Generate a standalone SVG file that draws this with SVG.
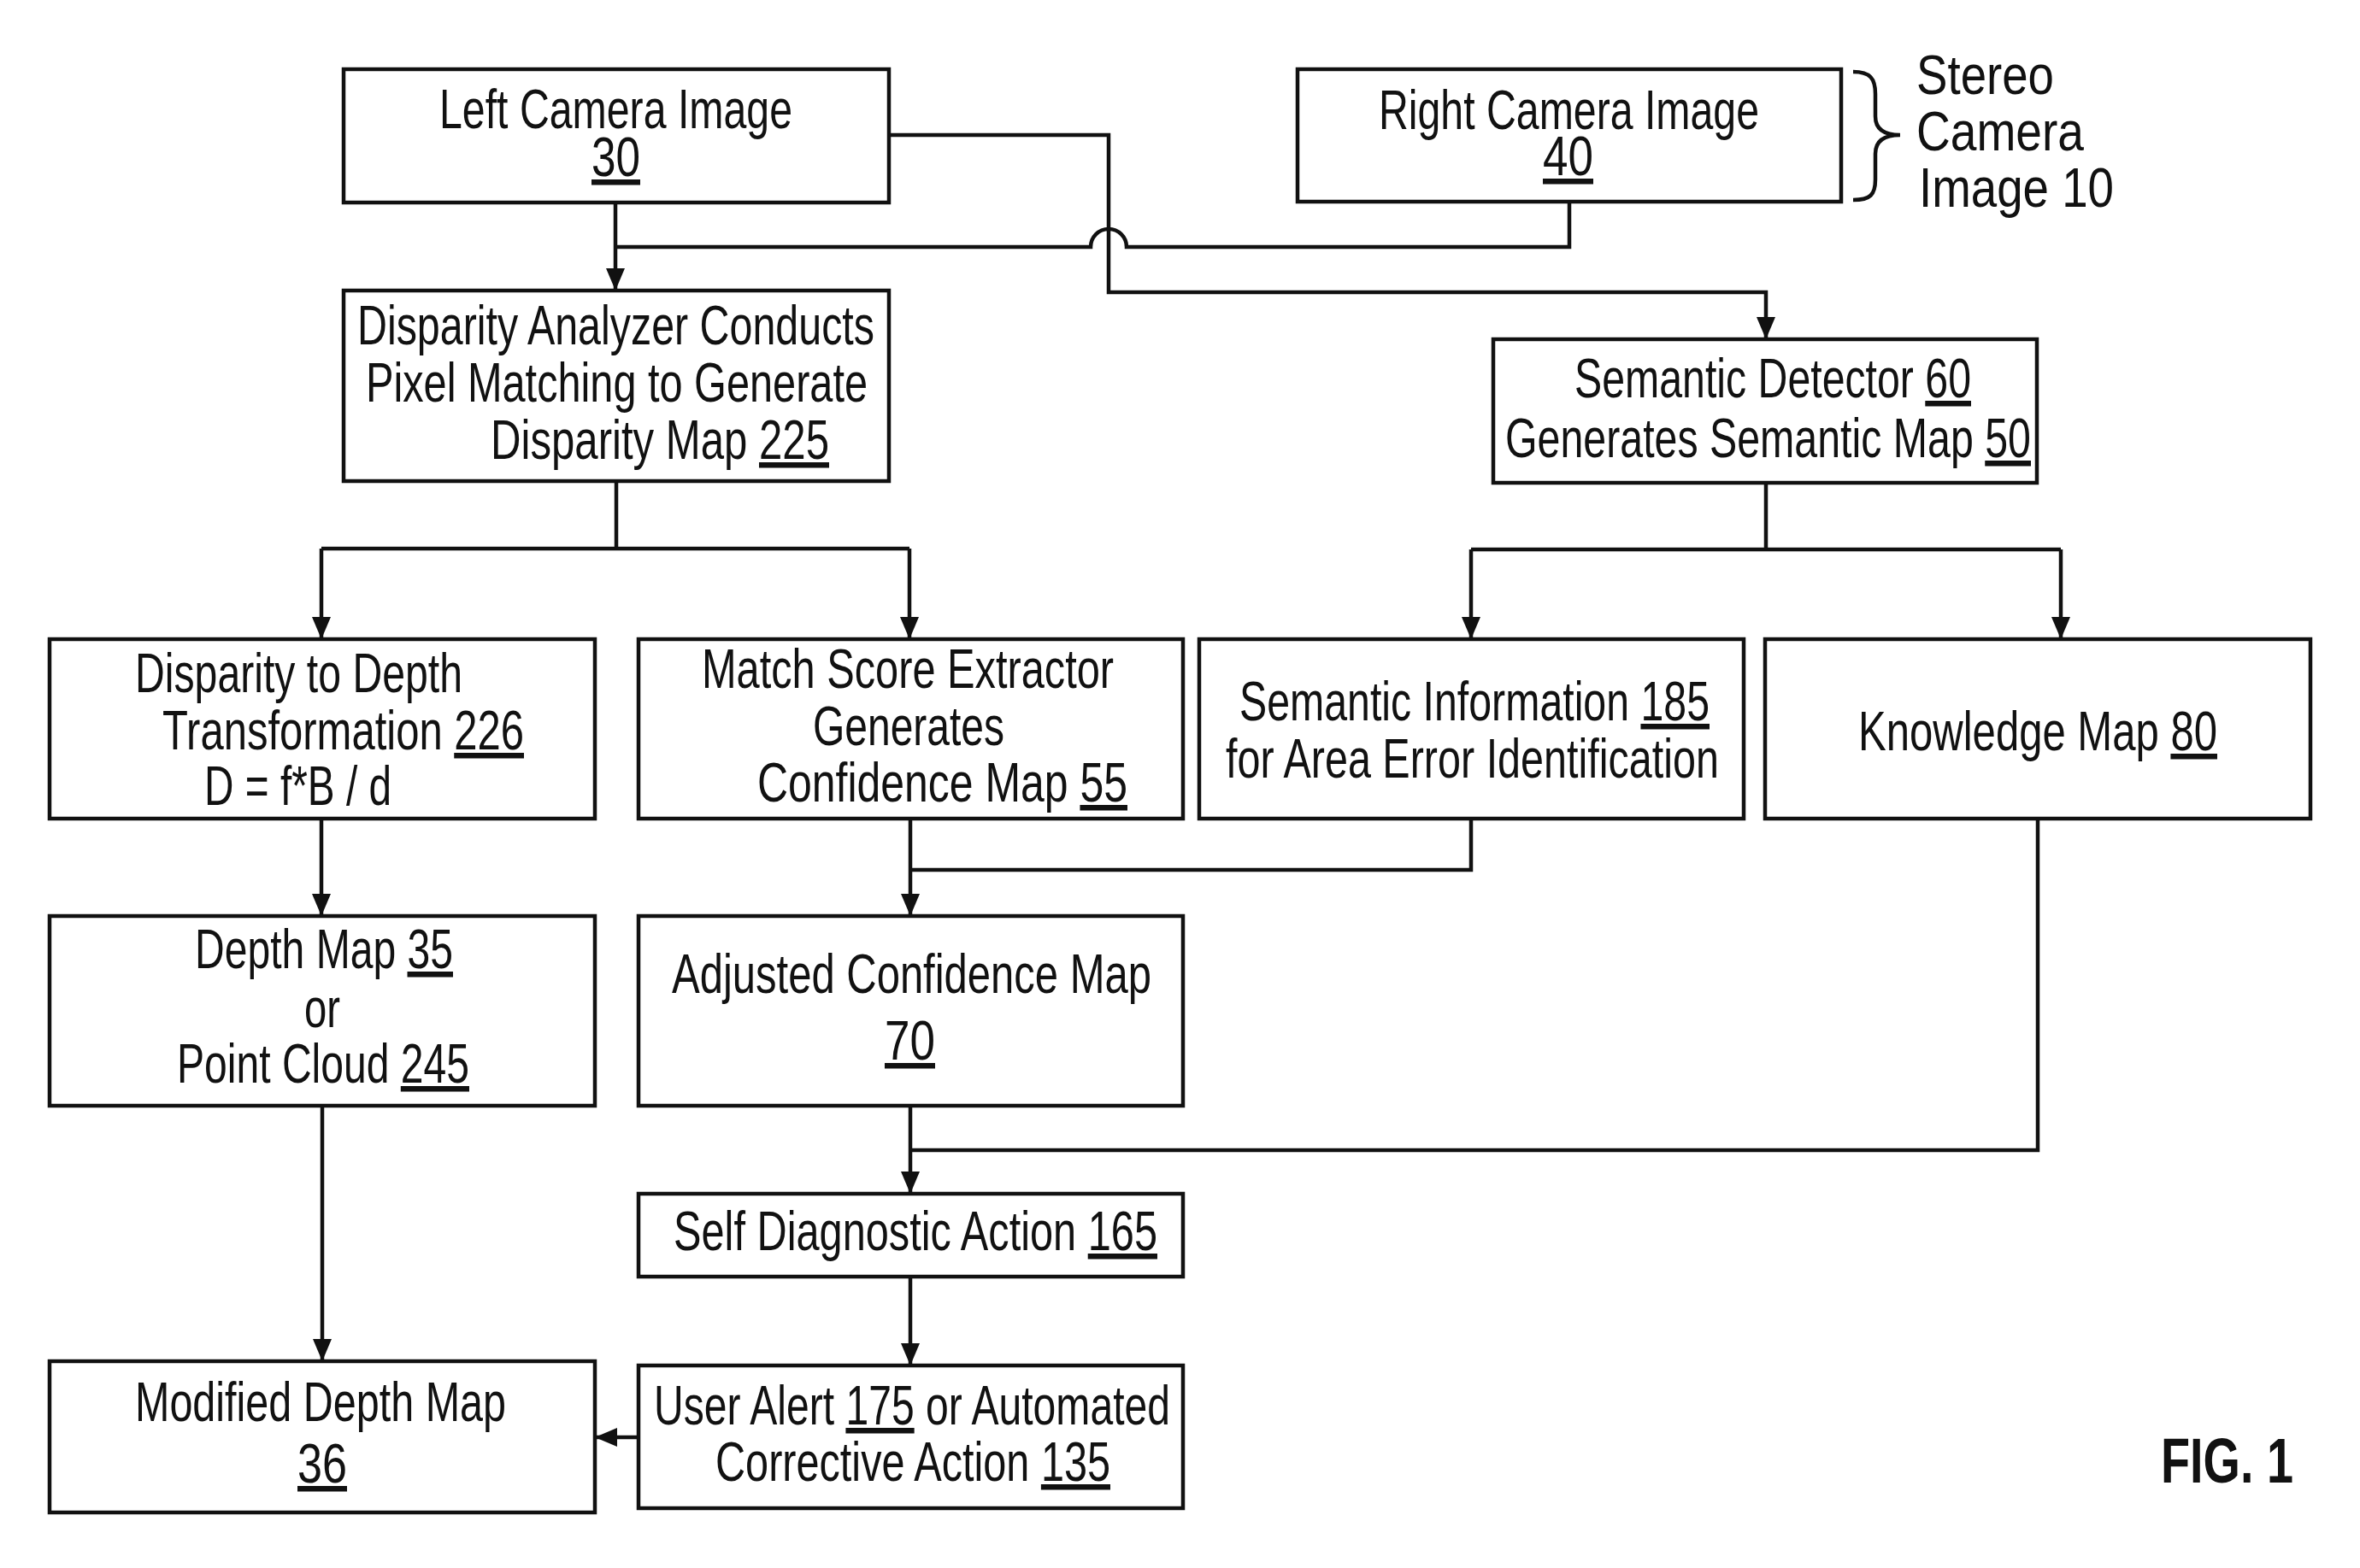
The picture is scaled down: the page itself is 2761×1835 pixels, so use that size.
<svg xmlns="http://www.w3.org/2000/svg" width="2761" height="1835" viewBox="0 0 2761 1835">
<style>
.box{fill:#fff;stroke:#111;stroke-width:4.5}
.t{font-family:"Liberation Sans",Arial,sans-serif;font-size:65px;fill:#111}
.s{font-family:"Liberation Sans",Arial,sans-serif;font-size:64px;fill:#111}
.fig{font-family:"Liberation Sans",Arial,sans-serif;font-size:74px;font-weight:bold;fill:#111}
.u{text-decoration:underline}
.c{fill:none;stroke:#111;stroke-width:4.5}
.a{fill:none;stroke:#111;stroke-width:4.5;marker-end:url(#arr)}
</style>
<defs>
<marker id="arr" viewBox="0 0 26 22" markerUnits="userSpaceOnUse" markerWidth="26" markerHeight="22" refX="26" refY="11" orient="auto">
<path d="M0,0 L26,11 L0,22 z" fill="#111"/>
</marker>
</defs>
<rect width="2761" height="1835" fill="#fff"/>

<g id="connectors">
<path class="a" d="M720,237 L720,340"/>
<path class="c" d="M1836,236 L1836,289 L1318,289 A21,21 0 0 0 1276,289 L720,289"/>
<path class="a" d="M1040,158 L1297,158 L1297,342 L2066,342 L2066,397"/>
<path class="c" d="M721,563 L721,642 M376,642 L1064,642"/>
<path class="a" d="M376,642 L376,748"/>
<path class="a" d="M1064,642 L1064,748"/>
<path class="c" d="M2066,565 L2066,643 M1721,643 L2411,643"/>
<path class="a" d="M1721,643 L1721,748"/>
<path class="a" d="M2411,643 L2411,748"/>
<path class="a" d="M376,958 L376,1072"/>
<path class="a" d="M1065,958 L1065,1072"/>
<path class="c" d="M1721,958 L1721,1018 L1065,1018"/>
<path class="a" d="M377,1294 L377,1593"/>
<path class="a" d="M1065,1294 L1065,1397"/>
<path class="c" d="M2384,958 L2384,1346 L1065,1346"/>
<path class="a" d="M1065,1494 L1065,1598"/>
<path class="a" d="M747,1682 L696,1682"/>
</g>

<g id="left-camera">
<rect class="box" x="402" y="81" width="638" height="156"/>
<text class="t" x="514" y="150" textLength="413" lengthAdjust="spacingAndGlyphs">Left Camera Image</text>
<text class="t u" x="692" y="206" textLength="57" lengthAdjust="spacingAndGlyphs">30</text>
</g>

<g id="right-camera">
<rect class="box" x="1518" y="81" width="636" height="155"/>
<text class="t" x="1613" y="151" textLength="445" lengthAdjust="spacingAndGlyphs">Right Camera Image</text>
<text class="t u" x="1805" y="205" textLength="59" lengthAdjust="spacingAndGlyphs">40</text>
</g>

<g id="stereo-label">
<path class="c" d="M2168,84 C2188,84 2194,92 2194,110 L2194,136 C2194,151 2204,158 2223,158 C2204,158 2194,165 2194,180 L2194,210 C2194,228 2188,234 2168,234"/>
<text class="s" x="2242" y="110" textLength="161" lengthAdjust="spacingAndGlyphs">Stereo</text>
<text class="s" x="2242" y="176" textLength="196" lengthAdjust="spacingAndGlyphs">Camera</text>
<text class="s" x="2245" y="242" textLength="228" lengthAdjust="spacingAndGlyphs">Image 10</text>
</g>

<g id="disparity-analyzer">
<rect class="box" x="402" y="340" width="638" height="223"/>
<text class="t" x="418" y="403" textLength="605" lengthAdjust="spacingAndGlyphs">Disparity Analyzer Conducts</text>
<text class="t" x="428" y="470" textLength="587" lengthAdjust="spacingAndGlyphs">Pixel Matching to Generate</text>
<text class="t" x="574" y="537" textLength="396" lengthAdjust="spacingAndGlyphs">Disparity Map <tspan class="u">225</tspan></text>
</g>

<g id="semantic-detector">
<rect class="box" x="1747" y="397" width="636" height="168"/>
<text class="t" x="1842" y="465" textLength="464" lengthAdjust="spacingAndGlyphs">Semantic Detector <tspan class="u">60</tspan></text>
<text class="t" x="1761" y="535" textLength="615" lengthAdjust="spacingAndGlyphs">Generates Semantic Map <tspan class="u">50</tspan></text>
</g>

<g id="disparity-to-depth">
<rect class="box" x="58" y="748" width="638" height="210"/>
<text class="t" x="158" y="810" textLength="383" lengthAdjust="spacingAndGlyphs">Disparity to Depth</text>
<text class="t" x="190" y="877" textLength="423" lengthAdjust="spacingAndGlyphs">Transformation <tspan class="u">226</tspan></text>
<text class="t" x="239" y="942" textLength="219" lengthAdjust="spacingAndGlyphs">D = f*B / d</text>
</g>

<g id="match-score">
<rect class="box" x="747" y="748" width="637" height="210"/>
<text class="t" x="821" y="805" textLength="482" lengthAdjust="spacingAndGlyphs">Match Score Extractor</text>
<text class="t" x="951" y="872" textLength="224" lengthAdjust="spacingAndGlyphs">Generates</text>
<text class="t" x="886" y="938" textLength="433" lengthAdjust="spacingAndGlyphs">Confidence Map  <tspan class="u">55</tspan></text>
</g>

<g id="semantic-information">
<rect class="box" x="1403" y="748" width="637" height="210"/>
<text class="t" x="1450" y="843" textLength="550" lengthAdjust="spacingAndGlyphs">Semantic Information <tspan class="u">185</tspan></text>
<text class="t" x="1434" y="910" textLength="577" lengthAdjust="spacingAndGlyphs">for Area Error Identification</text>
</g>

<g id="knowledge-map">
<rect class="box" x="2065" y="748" width="638" height="210"/>
<text class="t" x="2174" y="878" textLength="420" lengthAdjust="spacingAndGlyphs">Knowledge Map <tspan class="u">80</tspan></text>
</g>

<g id="depth-map">
<rect class="box" x="58" y="1072" width="638" height="222"/>
<text class="t" x="228" y="1133" textLength="302" lengthAdjust="spacingAndGlyphs">Depth Map <tspan class="u">35</tspan></text>
<text class="t" x="356" y="1202" textLength="42" lengthAdjust="spacingAndGlyphs">or</text>
<text class="t" x="207" y="1267" textLength="342" lengthAdjust="spacingAndGlyphs">Point Cloud <tspan class="u">245</tspan></text>
</g>

<g id="adjusted-confidence-map">
<rect class="box" x="747" y="1072" width="637" height="222"/>
<text class="t" x="786" y="1162" textLength="561" lengthAdjust="spacingAndGlyphs">Adjusted Confidence Map</text>
<text class="t u" x="1035" y="1240" textLength="59" lengthAdjust="spacingAndGlyphs">70</text>
</g>

<g id="self-diagnostic">
<rect class="box" x="747" y="1397" width="637" height="97"/>
<text class="t" x="788" y="1463" textLength="566" lengthAdjust="spacingAndGlyphs">Self Diagnostic Action <tspan class="u">165</tspan></text>
</g>

<g id="user-alert">
<rect class="box" x="747" y="1598" width="637" height="167"/>
<text class="t" x="765" y="1667" textLength="604" lengthAdjust="spacingAndGlyphs">User Alert <tspan class="u">175</tspan> or Automated</text>
<text class="t" x="837" y="1733" textLength="462" lengthAdjust="spacingAndGlyphs">Corrective Action <tspan class="u">135</tspan></text>
</g>

<g id="modified-depth-map">
<rect class="box" x="58" y="1593" width="638" height="177"/>
<text class="t" x="158" y="1663" textLength="434" lengthAdjust="spacingAndGlyphs">Modified Depth Map</text>
<text class="t u" x="348" y="1735" textLength="58" lengthAdjust="spacingAndGlyphs">36</text>
</g>

<g id="fig-label">
<text class="fig" x="2528" y="1735" textLength="155" lengthAdjust="spacingAndGlyphs">FIG. 1</text>
</g>
</svg>
